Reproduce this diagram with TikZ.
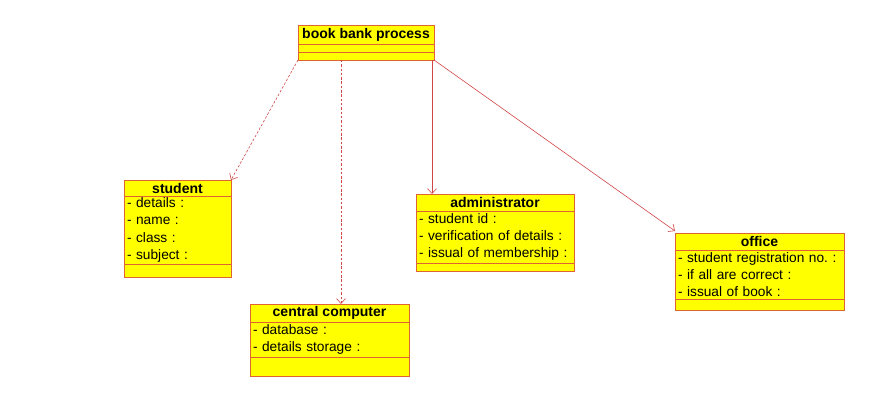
\documentclass[tikz,border=0pt]{standalone}
\usepackage{fontspec}
\setmainfont{Liberation Sans}
\usetikzlibrary{arrows.meta,positioning}
\definecolor{classyellow}{RGB}{255,255,0}
\definecolor{classedge}{RGB}{224,100,50}
\definecolor{linkred}{RGB}{210,70,70}

\begin{document}
\begin{tikzpicture}[x=1pt, y=-1pt,
    classhead/.style={draw=classedge, fill=classyellow, line width=0.8pt, anchor=north west,
        inner sep=0pt, outer sep=0pt, font=\fontsize{14}{15}\selectfont\bfseries},
    classbody/.style={draw=classedge, fill=classyellow, line width=0.8pt, inner xsep=3pt,
        inner ysep=0pt, outer sep=0pt, align=left, font=\fontsize{13.7}{17.3}\selectfont\frenchspacing},
    classfoot/.style={draw=classedge, fill=classyellow, line width=0.8pt, inner sep=0pt, outer sep=0pt},
    uses/.style={draw=linkred, line width=0.6pt, dash pattern=on 2.5pt off 1.8pt,
        -{Straight Barb[length=5pt,width=9pt]}},
    assoc/.style={draw=linkred, line width=0.6pt, -{Straight Barb[length=5pt,width=9pt]}}]
    \useasboundingbox[fill=white] (0,0) rectangle (882,401);

    % book bank process
    \node[classhead, minimum width=136pt, minimum height=19pt] (bbhead) at (298,25) {book bank process};
    \node[classfoot, minimum width=136pt, minimum height=8pt, below=0pt of bbhead] (bbmid) {};
    \node[classfoot, minimum width=136pt, minimum height=8pt, below=0pt of bbmid] (bbfoot) {};

    % student
    \node[classhead, minimum width=107pt, minimum height=16pt] (sthead) at (124,180) {student};
    \node[classbody, text width=101pt, minimum height=68pt, below=0pt of sthead] (stbody)
        {- details :\\- name :\\- class :\\- subject :};
    \node[classfoot, minimum width=107pt, minimum height=13pt, below=0pt of stbody] (stfoot) {};

    % central computer
    \node[classhead, minimum width=159pt, minimum height=18pt] (cchead) at (250,304) {central computer};
    \node[classbody, text width=153pt, minimum height=35pt, below=0pt of cchead] (ccbody)
        {- database :\\- details storage :};
    \node[classfoot, minimum width=159pt, minimum height=19pt, below=0pt of ccbody] (ccfoot) {};

    % administrator
    \node[classhead, minimum width=158pt, minimum height=17pt] (adhead) at (416,194) {administrator};
    \node[classbody, text width=152pt, minimum height=52pt, below=0pt of adhead] (adbody)
        {- student id :\\- verification of details :\\- issual of membership :};
    \node[classfoot, minimum width=158pt, minimum height=8pt, below=0pt of adbody] (adfoot) {};

    % office
    \node[classhead, minimum width=169pt, minimum height=17pt] (ofhead) at (675,233) {office};
    \node[classbody, text width=163pt, minimum height=49pt, below=0pt of ofhead] (ofbody)
        {- student registration no. :\\- if all are correct :\\- issual of book :};
    \node[classfoot, minimum width=169pt, minimum height=11pt, below=0pt of ofbody] (offoot) {};

    % links
    \draw[uses] (bbfoot.south west) -- (sthead.north east);
    \draw[uses] ([xshift=-25pt]bbfoot.south) -- ([xshift=-25pt]bbfoot.south |- cchead.north);
    \draw[assoc] ([xshift=-2pt]bbfoot.south east) -- ([xshift=-2pt]bbfoot.south east |- adhead.north);
    \draw[assoc] (bbfoot.south east) -- ([yshift=2pt]ofhead.north west);
\end{tikzpicture}
\end{document}
